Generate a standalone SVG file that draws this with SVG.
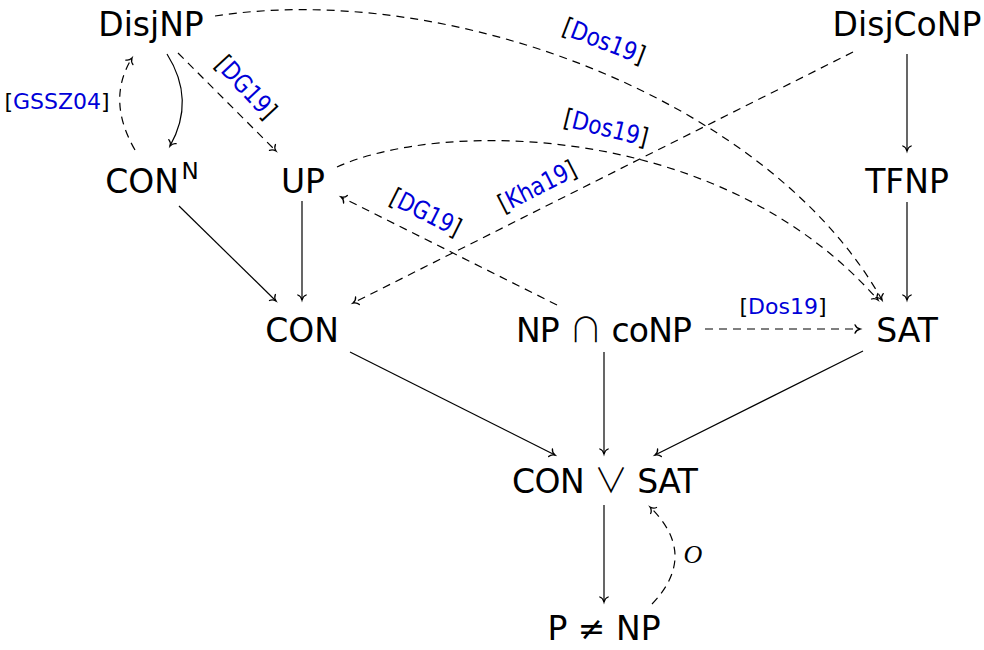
<svg xmlns="http://www.w3.org/2000/svg" width="984" height="650" viewBox="0 0 984 650">
<style>
.n{font-family:"DejaVu Sans","Liberation Sans",sans-serif;font-size:33px;fill:#000;text-anchor:middle}
.l{font-family:"DejaVu Sans","Liberation Sans",sans-serif;font-size:25px;fill:#000;text-anchor:middle}
.c{fill:#0000d8}
.s{font-family:"Noto Sans CJK SC","DejaVu Sans",sans-serif;font-weight:300;font-size:34px}
.e{fill:none;stroke:#000;stroke-width:1.2;marker-end:url(#a)}
.d{stroke-dasharray:8 6}
</style>
<defs>
<marker id="a" markerUnits="userSpaceOnUse" markerWidth="14" markerHeight="14" viewBox="-7 -7 14 14" refX="0" refY="0" orient="auto">
<path d="M-5,-4.2 C-4.2,-1.8 -1.5,-0.4 0,0 C-1.5,0.4 -4.2,1.8 -5,4.2" fill="none" stroke="#000" stroke-width="1.3" stroke-linecap="round"/>
</marker>
</defs>
<g id="edges">
<path class="e" d="M167,54 Q196,100 170,146"/>
<path class="e d" d="M135,150 Q106,100 132,58"/>
<path class="e d" d="M178,53 L276,151"/>
<path class="e d" d="M215,16 C450,-20 770,100 882,300"/>
<path class="e d" d="M853,52 L353,303"/>
<path class="e" d="M907,54 L907,151"/>
<path class="e d" d="M337,167 C440,120 720,120 878,300"/>
<path class="e" d="M302,201 L302,300"/>
<path class="e" d="M179,206 L276,301"/>
<path class="e d" d="M557,305 L341,197"/>
<path class="e" d="M907,202 L907,300"/>
<path class="e d" d="M705,329 L860,329"/>
<path class="e" d="M350,352 L555,455"/>
<path class="e" d="M604,352 L604,454"/>
<path class="e" d="M863,351 L655,455"/>
<path class="e" d="M604,505 L604,602"/>
<path class="e d" d="M652,604 Q699,555 650,507"/>
</g>
<g id="labels">
<text class="l" x="57" y="109" style="font-size:22px">[<tspan class="c">GSSZ04</tspan>]</text>
<text class="l" transform="translate(240,93) rotate(47)" textLength="76" lengthAdjust="spacingAndGlyphs">[<tspan class="c">DG19</tspan>]</text>
<text class="l" transform="translate(601,49) rotate(21)" textLength="86" lengthAdjust="spacingAndGlyphs">[<tspan class="c">Dos19</tspan>]</text>
<text class="l" transform="translate(604,136) rotate(14)" textLength="86" lengthAdjust="spacingAndGlyphs">[<tspan class="c">Dos19</tspan>]</text>
<text class="l" transform="translate(541,194) rotate(-27)" textLength="84" lengthAdjust="spacingAndGlyphs">[<tspan class="c">Kha19</tspan>]</text>
<text class="l" transform="translate(422,220) rotate(26.6)" textLength="76" lengthAdjust="spacingAndGlyphs">[<tspan class="c">DG19</tspan>]</text>
<text class="l" x="783" y="314" style="font-size:22px">[<tspan class="c">Dos19</tspan>]</text>
<text x="693" y="563" style="font-family:'Liberation Serif',serif;font-style:italic;font-size:26px;text-anchor:middle">O</text>
</g>
<g id="DisjNP"><text class="n" x="151" y="36">DisjNP</text></g>
<g id="DisjCoNP"><text class="n" x="907" y="36">DisjCoNP</text></g>
<g id="CONN"><text class="n" x="142" y="193">CON</text><text x="190" y="179" style="font-family:'DejaVu Sans',sans-serif;font-size:23px;text-anchor:middle">N</text></g>
<g id="UP"><text class="n" x="303" y="193">UP</text></g>
<g id="TFNP"><text class="n" x="907" y="193">TFNP</text></g>
<g id="CON"><text class="n" x="302" y="342">CON</text></g>
<g id="NPcoNP"><text class="n" x="604" y="342" textLength="176" lengthAdjust="spacing">NP <tspan class="s">∩</tspan> coNP</text></g>
<g id="SAT"><text class="n" x="907" y="342">SAT</text></g>
<g id="CONSAT"><text class="n" x="605" y="493" textLength="186" lengthAdjust="spacing">CON <tspan class="s">∨</tspan> SAT</text></g>
<g id="PNP"><text class="n" x="604" y="640">P ≠ NP</text></g>
</svg>
